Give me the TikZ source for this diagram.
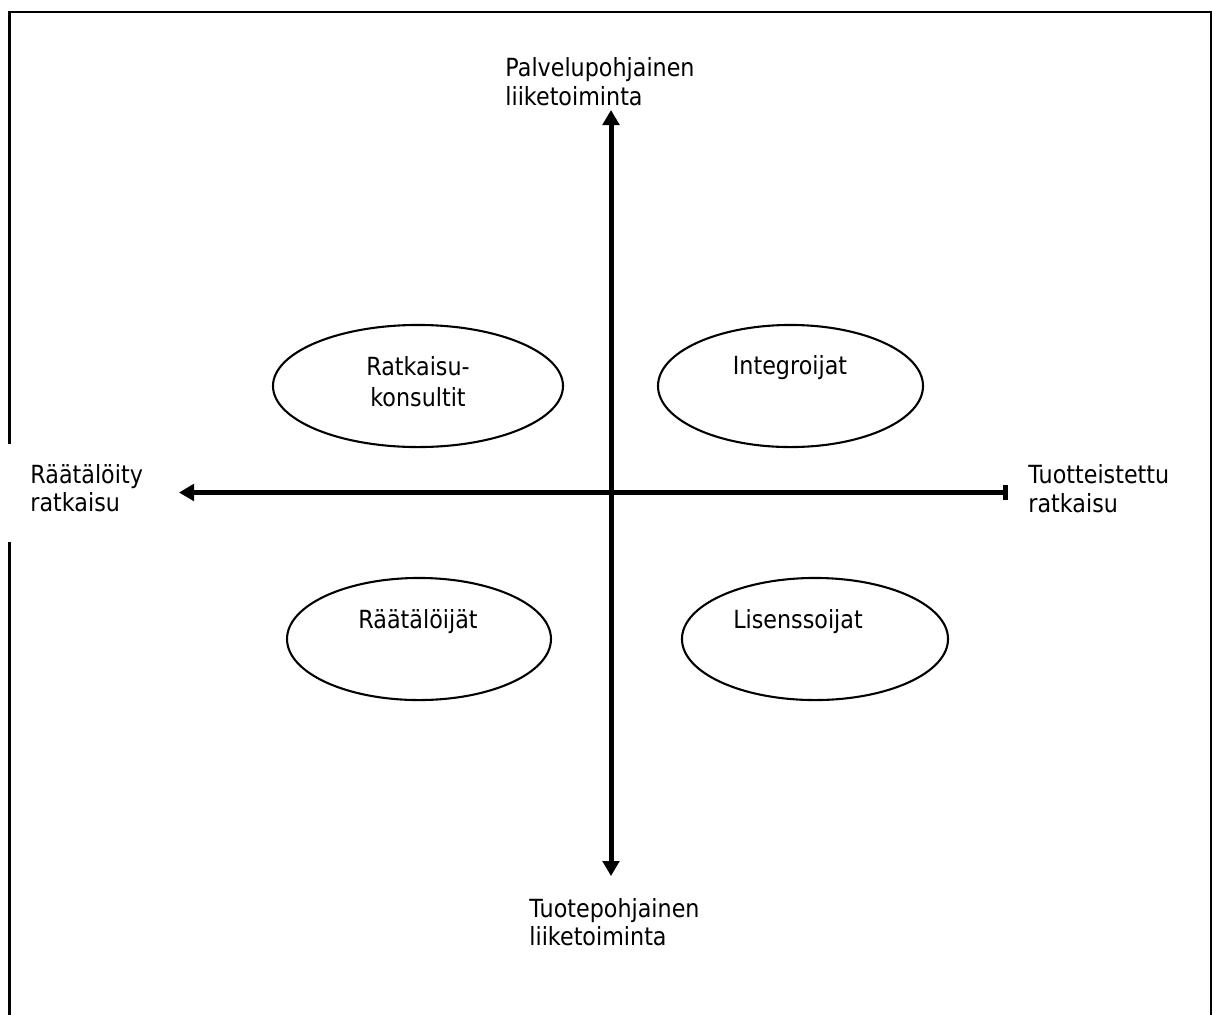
\documentclass[tikz,border=0pt]{standalone}
\usepackage{fontspec}
\setmainfont{DejaVu Sans}[FakeStretch=0.89]
\usetikzlibrary{arrows.meta,shapes.geometric}
\begin{document}
\begin{tikzpicture}[x=0.48pt,y=-0.48pt,
  frame/.style={line width=1.05pt, line cap=rect},
  axisline/.style={line width=2.4pt},
  tri/.tip={Triangle[length=7.2pt,width=7.9pt]},
  bartip/.tip={Rectangle[length=2.2pt,width=7pt]},
  oval/.style={draw, ellipse, line width=1pt, inner sep=0pt, minimum height=58.6pt},
  lbl/.style={inner sep=0pt, anchor=base west, font=\fontsize{12pt}{14pt}\selectfont},
  ctxt/.style={inner sep=0pt, anchor=base, font=\fontsize{12pt}{14pt}\selectfont}]
\useasboundingbox (0,0) rectangle (1213,1014);
% frame
\draw[frame] (9.5,443) -- (9.5,12) -- (1211,12) -- (1211,1014);
\draw[frame] (9.5,543) -- (9.5,1014);
% axes
\coordinate (vtop) at (611,110);
\coordinate (vbot) at (611,876);
\coordinate (hleft) at (179,492.5);
\coordinate (hright) at (1008,492.5);
\draw[axisline, tri-tri] (vbot) -- (vtop);
\draw[axisline, tri-bartip] (hleft) -- (hright);
% ellipses
\node[oval, minimum width=139.2pt] (rk) at (418,386) {};
\node[oval, minimum width=127.2pt] (ig) at (790.5,386) {};
\node[oval, minimum width=126.7pt] (ra) at (419,639) {};
\node[oval, minimum width=127.7pt] (li) at (815,639) {};
\node[ctxt] (rk1) at (418,375) {Ratkaisu-};
\node[ctxt] (rk2) at (418,406) {konsultit};
\node[ctxt] (igt) at (790,374) {Integroijat};
\node[ctxt] (rat) at (418,628) {Räätälöijät};
\node[ctxt] (lit) at (798,628) {Lisenssoijat};
% axis labels
\node[lbl] (t1) at (505,76) {Palvelupohjainen};
\node[lbl] (t2) at (505,105) {liiketoiminta};
\node[lbl] (b1) at (529,917) {Tuotepohjainen};
\node[lbl] (b2) at (529,945) {liiketoiminta};
\node[lbl] (l1) at (30,483) {Räätälöity};
\node[lbl] (l2) at (30,511) {ratkaisu};
\node[lbl] (r1) at (1028,483) {Tuotteistettu};
\node[lbl] (r2) at (1028,512) {ratkaisu};
\end{tikzpicture}
\end{document}
